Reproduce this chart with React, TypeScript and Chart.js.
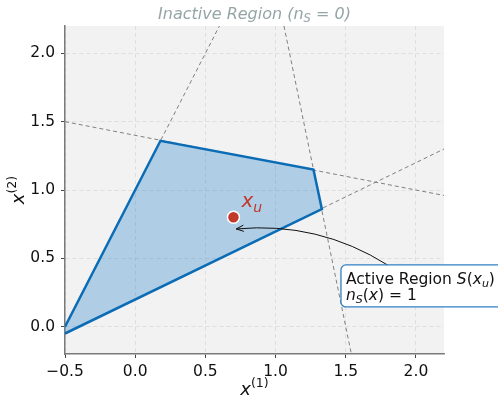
import React, { useEffect, useRef } from "react";
import { Chart, registerables } from "chart.js";

Chart.register(...registerables);

// ---- data ----
const X_RANGE = [-0.5, 2.2];
const Y_RANGE = [-0.2, 2.2];
const X_TICKS = [-0.5, 0.0, 0.5, 1.0, 1.5, 2.0];
const Y_TICKS = [0.0, 0.5, 1.0, 1.5, 2.0];

// active region S(x_u) polygon vertices (outline order)
const REGION_X = [-0.5, 0.18, 1.27, 1.33, -0.5];
const REGION_Y = [0.0, 1.36, 1.15, 0.86, -0.05];

// dashed constraint lines (end points)
const LINE1_X = [-0.5, 0.6];
const LINE1_Y = [0.0, 2.2];
const LINE2_X = [-0.5, 2.2];
const LINE2_Y = [1.5, 0.96];
const LINE3_X = [1.06, 1.54];
const LINE3_Y = [2.2, -0.2];
const LINE4_X = [-0.5, 2.2];
const LINE4_Y = [-0.05, 1.3];

// the point x_u
const POINT_X = [0.7];
const POINT_Y = [0.8];

// annotation: arrow tip and box corner (data coordinates)
const ARROW_TIP = [0.72, 0.715];
const ARROW_START = [1.8, 0.45];
const BOX_CORNER = [1.466, 0.452];

const FONT = '"DejaVu Sans", sans-serif';

type Run = { t: string; italic?: boolean; size: number; dy?: number };

function runsWidth(ctx: CanvasRenderingContext2D, runs: Run[]) {
  let w = 0;
  for (const r of runs) {
    ctx.font = `${r.italic ? "italic " : ""}${r.size}px ${FONT}`;
    w += ctx.measureText(r.t).width;
  }
  return w;
}

function drawRuns(
  ctx: CanvasRenderingContext2D,
  runs: Run[],
  x: number,
  y: number,
  align: "left" | "center",
  color: string
) {
  const total = runsWidth(ctx, runs);
  let cx = align === "center" ? x - total / 2 : x;
  ctx.fillStyle = color;
  ctx.textAlign = "left";
  ctx.textBaseline = "alphabetic";
  for (const r of runs) {
    ctx.font = `${r.italic ? "italic " : ""}${r.size}px ${FONT}`;
    ctx.fillText(r.t, cx, y + (r.dy || 0));
    cx += ctx.measureText(r.t).width;
  }
}

const zip = (xs: number[], ys: number[]) => xs.map((x, i) => ({ x, y: ys[i] }));

const bgPlugin = {
  id: "bgAndFill",
  beforeDraw(chart: any) {
    const { ctx, chartArea: a } = chart;
    ctx.save();
    ctx.fillStyle = "#f2f2f2";
    ctx.fillRect(a.left, a.top, a.right - a.left, a.bottom - a.top);
    ctx.restore();
  },
  beforeDatasetsDraw(chart: any) {
    const { ctx, chartArea: a, scales } = chart;
    const sx = scales.x, sy = scales.y;
    ctx.save();
    ctx.beginPath();
    ctx.rect(a.left, a.top, a.right - a.left, a.bottom - a.top);
    ctx.clip();
    ctx.beginPath();
    REGION_X.forEach((x, i) => {
      const px = sx.getPixelForValue(x);
      const py = sy.getPixelForValue(REGION_Y[i]);
      if (i === 0) ctx.moveTo(px, py);
      else ctx.lineTo(px, py);
    });
    ctx.closePath();
    ctx.fillStyle = "rgba(21, 120, 200, 0.30)";
    ctx.fill();
    ctx.restore();
  },
  afterDatasetsDraw(chart: any) {
    const { ctx, chartArea: a, scales } = chart;
    const sx = scales.x, sy = scales.y;
    ctx.save();

    // title
    drawRuns(
      ctx,
      [
        { t: "Inactive Region (", italic: true, size: 16 },
        { t: "n", italic: true, size: 16 },
        { t: "S", italic: true, size: 11.5, dy: 3 },
        { t: " = 0)", italic: true, size: 16 },
      ],
      (a.left + a.right) / 2,
      19,
      "center",
      "#95a5a6"
    );

    // x axis label
    drawRuns(
      ctx,
      [
        { t: "x", italic: true, size: 18 },
        { t: "(1)", size: 12.5, dy: -8 },
      ],
      (a.left + a.right) / 2,
      395,
      "center",
      "#111"
    );

    // y axis label
    ctx.save();
    ctx.translate(24, (a.top + a.bottom) / 2);
    ctx.rotate(-Math.PI / 2);
    drawRuns(
      ctx,
      [
        { t: "x", italic: true, size: 18 },
        { t: "(2)", size: 12.5, dy: -8 },
      ],
      0,
      0,
      "center",
      "#111"
    );
    ctx.restore();

    // x_u label
    const ppx = sx.getPixelForValue(POINT_X[0]);
    const ppy = sy.getPixelForValue(POINT_Y[0]);
    drawRuns(
      ctx,
      [
        { t: "x", italic: true, size: 20 },
        { t: "u", italic: true, size: 14, dy: 5 },
      ],
      ppx + 8,
      ppy - 10,
      "left",
      "#c0392b"
    );

    // annotation arrow (curved)
    const p0x = sx.getPixelForValue(ARROW_START[0]);
    const p0y = sy.getPixelForValue(ARROW_START[1]);
    const p2x = sx.getPixelForValue(ARROW_TIP[0]);
    const p2y = sy.getPixelForValue(ARROW_TIP[1]);
    const mx = (p0x + p2x) / 2, my = (p0y + p2y) / 2;
    const dx = p2x - p0x, dy = p2y - p0y;
    const rad = -0.17;
    const cx = mx + rad * dy;
    const cy = my - rad * dx;
    ctx.strokeStyle = "#111";
    ctx.lineWidth = 1;
    ctx.beginPath();
    ctx.moveTo(p0x, p0y);
    ctx.quadraticCurveTo(cx, cy, p2x, p2y);
    ctx.stroke();
    const ang = Math.atan2(p2y - cy, p2x - cx);
    const hl = 8;
    ctx.beginPath();
    ctx.moveTo(p2x - hl * Math.cos(ang - 0.4), p2y - hl * Math.sin(ang - 0.4));
    ctx.lineTo(p2x, p2y);
    ctx.lineTo(p2x - hl * Math.cos(ang + 0.4), p2y - hl * Math.sin(ang + 0.4));
    ctx.stroke();

    // annotation box
    const bx = sx.getPixelForValue(BOX_CORNER[0]);
    const by = sy.getPixelForValue(BOX_CORNER[1]);
    ctx.beginPath();
    ctx.roundRect(bx, by, 200, 42, 5);
    ctx.fillStyle = "rgba(255,255,255,0.95)";
    ctx.fill();
    ctx.strokeStyle = "#2f80c3";
    ctx.lineWidth = 1.3;
    ctx.stroke();
    drawRuns(
      ctx,
      [
        { t: "Active Region ", size: 15.5 },
        { t: "S", italic: true, size: 15.5 },
        { t: "(", size: 15.5 },
        { t: "x", italic: true, size: 15.5 },
        { t: "u", italic: true, size: 11, dy: 3 },
        { t: ")", size: 15.5 },
      ],
      bx + 5,
      by + 19,
      "left",
      "#111"
    );
    drawRuns(
      ctx,
      [
        { t: "n", italic: true, size: 15.5 },
        { t: "S", italic: true, size: 11, dy: 3 },
        { t: "(", size: 15.5 },
        { t: "x", italic: true, size: 15.5 },
        { t: ") = 1", size: 15.5 },
      ],
      bx + 5,
      by + 35,
      "left",
      "#111"
    );

    ctx.restore();
  },
};

function fmt(v: number) {
  const s = Math.abs(v).toFixed(1);
  return v < 0 ? "\u2212" + s : s;
}

export default function App() {
  const ref = useRef<HTMLCanvasElement | null>(null);
  useEffect(() => {
    if (!ref.current) return;
    const dashed = (xs: number[], ys: number[]) => ({
      data: zip(xs, ys),
      showLine: true,
      borderColor: "#808080",
      borderWidth: 1,
      borderDash: [4, 3],
      pointRadius: 0,
      fill: false,
    });
    const chart = new Chart(ref.current, {
      type: "scatter",
      data: {
        datasets: [
          {
            data: zip(POINT_X, POINT_Y),
            pointRadius: 6,
            pointBackgroundColor: "#c0392b",
            pointBorderColor: "#ffffff",
            pointBorderWidth: 1.5,
            showLine: false,
          } as any,
          {
            data: zip(REGION_X, REGION_Y),
            showLine: true,
            borderColor: "#0b6cb6",
            borderWidth: 2.5,
            pointRadius: 0,
            fill: false,
            borderJoinStyle: "miter",
          } as any,
          dashed(LINE1_X, LINE1_Y) as any,
          dashed(LINE2_X, LINE2_Y) as any,
          dashed(LINE3_X, LINE3_Y) as any,
          dashed(LINE4_X, LINE4_Y) as any,
        ],
      },
      options: {
        animation: false,
        responsive: false,
        layout: { padding: { top: 26, right: 54, left: 0, bottom: 0 } },
        plugins: {
          legend: { display: false },
          tooltip: { enabled: false },
          title: { display: false },
        },
        scales: {
          x: {
            type: "linear",
            min: X_RANGE[0],
            max: X_RANGE[1],
            afterBuildTicks: (s: any) => {
              s.ticks = X_TICKS.map((v) => ({ value: v }));
            },
            afterFit: (s: any) => {
              s.height = 45;
            },
            ticks: {
              callback: (v: any) => fmt(Number(v)),
              font: { family: FONT, size: 15.5 },
              color: "#111",
              padding: 5,
              maxRotation: 0,
            },
            grid: {
              color: "#d8d8d8",
              lineWidth: 0.8,
              tickLength: 4,
              tickColor: "#444",
              tickWidth: 1,
            },
            border: { display: true, color: "#7a7a7a", width: 1.5, dash: [4, 3] },
          },
          y: {
            type: "linear",
            min: Y_RANGE[0],
            max: Y_RANGE[1],
            afterBuildTicks: (s: any) => {
              s.ticks = Y_TICKS.map((v) => ({ value: v }));
            },
            afterFit: (s: any) => {
              s.width = 65;
            },
            ticks: {
              callback: (v: any) => fmt(Number(v)),
              font: { family: FONT, size: 15.5 },
              color: "#111",
              padding: 6,
            },
            grid: {
              color: "#d8d8d8",
              lineWidth: 0.8,
              tickLength: 4,
              tickColor: "#444",
              tickWidth: 1,
            },
            border: { display: true, color: "#7a7a7a", width: 1.5, dash: [4, 3] },
          },
        },
      } as any,
      plugins: [bgPlugin],
    });
    return () => chart.destroy();
  }, []);
  return (
    <div style={{ position: "absolute", left: 0, top: 0, width: 498, height: 399 }}>
      <canvas ref={ref} width={498} height={399} style={{ display: "block" }} />
    </div>
  );
}
